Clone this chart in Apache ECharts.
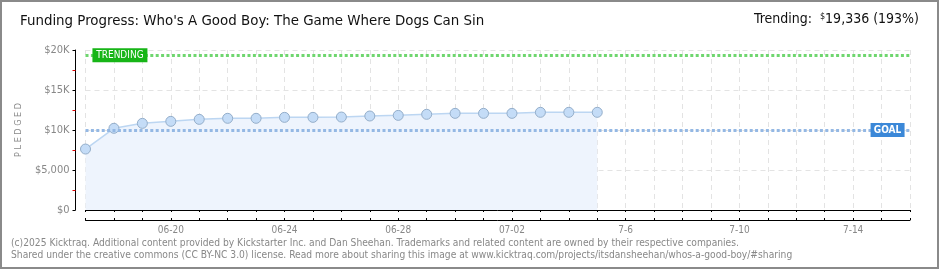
<!DOCTYPE html>
<html><head><meta charset="utf-8">
<script src="https://cdn.jsdelivr.net/npm/echarts@6/dist/echarts.min.js"></script>
<style>html,body{margin:0;padding:0;background:#fff}#c{width:940px;height:270px}</style>
</head><body><div id="c"></div>
<script>
const dates = ["06-17","06-18","06-19","06-20","06-21","06-22","06-23","06-24","06-25","06-26",
  "06-27","06-28","06-29","06-30","07-01","07-02","07-03","07-04","07-05","07-06",
  "07-07","07-08","07-09","07-10","07-11","07-12","07-13","07-14","07-15","07-16"];
const pledged = [7620,10210,10830,11080,11330,11460,11460,11580,11580,11620,
  11750,11830,11960,12080,12080,12080,12210,12210,12210];
const xTickLabels = {"06-20":"06-20","06-24":"06-24","06-28":"06-28","07-02":"07-02","07-06":"7-6","07-10":"7-10","07-14":"7-14"};
const yTickLabels = {0:"$0",5000:"$5,000",10000:"$10K",15000:"$15K",20000:"$20K"};
const goal = 10000;
const trending = 19336;
const trendingPct = 193;
const titleText = "Funding Progress: Who's A Good Boy: The Game Where Dogs Can Sin";
const footer1 = "(c)2025 Kicktraq. Additional content provided by Kickstarter Inc. and Dan Sheehan. Trademarks and related content are owned by their respective companies.";
const footer2 = "Shared under the creative commons (CC BY-NC 3.0) license. Read more about sharing this image at www.kicktraq.com/projects/itsdansheehan/whos-a-good-boy/#sharing";

const chart = echarts.init(document.getElementById('c'), null, {renderer:'canvas'});
const axFont = '"DejaVu Sans Condensed", "DejaVu Sans", sans-serif';
const baseX = {
  type:'category', data:dates, boundaryGap:false, position:'bottom', offset:10,
  axisLine:{lineStyle:{color:'#000', width:1}},
};
chart.setOption({
  animation:false,
  backgroundColor:'#fff',
  grid:{left:85.5, right:30, top:50, bottom:60},
  xAxis:[
    Object.assign({}, baseX, {
      axisTick:{show:true, inside:false, length:2, interval:0, lineStyle:{color:'#000'}},
      axisLabel:{interval:0, margin:5, color:'#888', fontSize:10, fontFamily:axFont,
        formatter:v=>xTickLabels[v]||''},
      splitLine:{show:true, interval:0, lineStyle:{color:'#e3e3e3', type:[5,4]}}
    }),
    Object.assign({}, baseX, {
      axisTick:{show:true, inside:true, length:2, interval:0, lineStyle:{color:'#000'}},
      axisLabel:{show:false}, splitLine:{show:false}
    })
  ],
  yAxis:{
    type:'value', min:0, max:20000, interval:5000, offset:10,
    name:'P L E D G E D', nameLocation:'middle', nameRotate:90, nameGap:52,
    nameTextStyle:{color:'#888', fontSize:9, fontFamily:axFont},
    axisLine:{show:true, lineStyle:{color:'#000'}},
    axisTick:{show:true, length:3, lineStyle:{color:'#000'}},
    minorTick:{show:true, splitNumber:2, length:3, lineStyle:{color:'#e00000'}},
    axisLabel:{color:'#888', fontSize:11, fontFamily:axFont, margin:6,
      formatter:v=>yTickLabels[v]??''},
    splitLine:{show:true, lineStyle:{color:'#e3e3e3', type:[5,4]}}
  },
  series:[{
    type:'line', data:pledged, xAxisIndex:0,
    symbol:'circle', symbolSize:10,
    itemStyle:{color:'#c4dcf7', borderColor:'#94aeca', borderWidth:1},
    lineStyle:{color:'#bcd6f2', width:1.5},
    areaStyle:{color:'#eef4fd', opacity:1},
    markLine:{
      silent:true, symbol:'none',
      label:{show:false},
      data:[
        {yAxis:goal, lineStyle:{color:'#94b8e4', width:3, type:[3,2.4]}},
        {yAxis:trending, lineStyle:{color:'#6fd66f', width:3, type:[3,2.4]}}
      ]
    },
    markPoint:{
      silent:true,
      data:[
        {coord:[1, trending], symbol:'rect', symbolSize:[55,14], symbolOffset:[6,0],
          itemStyle:{color:'#17b517', borderWidth:0},
          label:{show:true, formatter:'TRENDING', color:'#fff', fontSize:10, fontFamily:axFont}},
        {coord:[28, goal], symbol:'rect', symbolSize:[34,14], symbolOffset:[6,0],
          itemStyle:{color:'#3b88d8', borderWidth:0},
          label:{show:true, formatter:'GOAL', color:'#fff', fontSize:10, fontWeight:'bold', fontFamily:axFont}}
      ]
    }
  }],
  graphic:[
    {type:'rect', shape:{x:1, y:1, width:937, height:267}, style:{fill:null, stroke:'#8a8a8a', lineWidth:2}, silent:true},
    {type:'text', left:20, top:14, style:{text:titleText, fill:'#111', fontSize:14.9, fontFamily:axFont}},
    {type:'text', right:21, top:12, style:{
      text:'Trending:  {s|$}' + trending.toLocaleString('en-US') + ' (' + trendingPct + '%)',
      fill:'#111', fontSize:14, fontFamily:axFont,
      rich:{s:{fontSize:9, fontFamily:axFont, verticalAlign:'top', fill:'#111', padding:[0,0,6,0]}}}},
    {type:'text', left:11, top:238, style:{text:footer1, fill:'#888', fontSize:10.2, fontFamily:axFont}},
    {type:'text', left:11, top:250, style:{text:footer2, fill:'#888', fontSize:10.2, fontFamily:axFont}}
  ]
});
</script></body></html>
